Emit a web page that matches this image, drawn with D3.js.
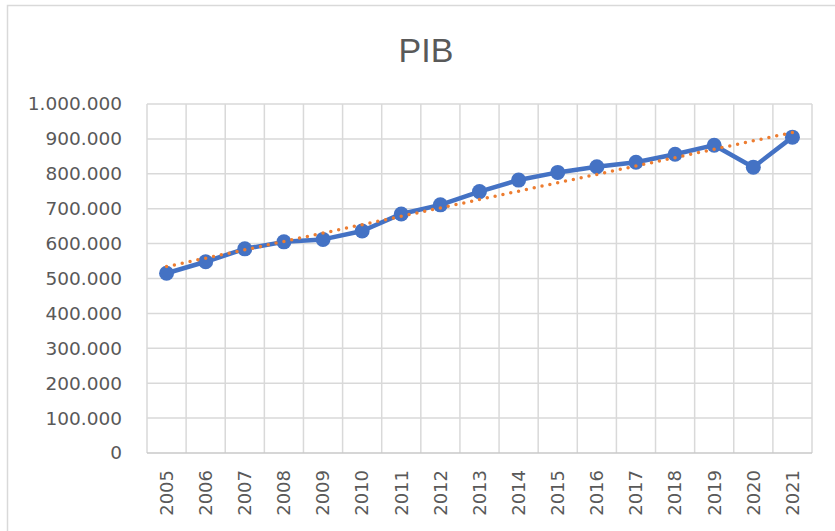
<!DOCTYPE html>
<html>
<head>
<meta charset="utf-8">
<script src="https://cdn.jsdelivr.net/npm/d3@7"></script>
<style>
  body { margin: 0; background: #fff; }
  svg { display: block; }
</style>
</head>
<body>
<svg id="chart"></svg>
<script>
// data
const years = ["2005","2006","2007","2008","2009","2010","2011","2012","2013",
               "2014","2015","2016","2017","2018","2019","2020","2021"];
const pib = [515000, 548000, 585000, 605000, 612000, 636000, 685000, 711000, 749000,
             782000, 804000, 820000, 833000, 856000, 882000, 819000, 905000];
const yTicks = [0, 100000, 200000, 300000, 400000, 500000, 600000, 700000, 800000, 900000, 1000000];
const chartTitle = "PIB";

let W = 835, H = 531;
let margin = {top: 104, right: 23, bottom: 78, left: 147},
    width = W - margin.left - margin.right,
    height = H - margin.top - margin.bottom;

let svg = d3.select("#chart")
    .attr("width", W)
    .attr("height", H);

// chart frame
svg.append("rect")
    .attr("x", 7.5).attr("y", 5.5)
    .attr("width", 840).attr("height", 540)
    .attr("fill", "#fff")
    .attr("stroke", "#d9d9d9")
    .attr("stroke-width", 1.5);

svg.append("text")
    .attr("x", 426).attr("y", 62)
    .attr("text-anchor", "middle")
    .attr("font-family", "'Liberation Sans Narrow', 'Liberation Sans', sans-serif")
    .attr("font-size", 34)
    .attr("fill", "#595959")
    .text(chartTitle);

let chart = svg.append("g")
    .attr("transform", "translate(" + margin.left + "," + margin.top + ")");

let xScale = d3.scaleBand()
    .domain(years)
    .range([0, width]);

let yScale = d3.scaleLinear()
    .domain([0, 1000000])
    .range([height, 0]);

let fmt = d3.formatLocale({decimal: ",", thousands: ".", grouping: [3], currency: ["", ""]}).format(",.0f");

// horizontal grid
chart.append("g")
    .selectAll("line")
    .data(yTicks.slice(1))
    .enter()
    .append("line")
    .attr("x1", 0).attr("x2", width)
    .attr("y1", d => yScale(d)).attr("y2", d => yScale(d))
    .attr("stroke", "#d9d9d9")
    .attr("stroke-width", 1.5);

// vertical grid at category edges
chart.append("g")
    .selectAll("line")
    .data(years.concat(["end"]))
    .enter()
    .append("line")
    .attr("x1", (d, i) => i * xScale.step())
    .attr("x2", (d, i) => i * xScale.step())
    .attr("y1", 0).attr("y2", height)
    .attr("stroke", "#d9d9d9")
    .attr("stroke-width", 1.5);

// bottom axis line
chart.append("line")
    .attr("x1", 0).attr("x2", width)
    .attr("y1", height).attr("y2", height)
    .attr("stroke", "#c8c8c8")
    .attr("stroke-width", 1.5);

// y axis labels
let yAxis = chart.append("g")
    .call(d3.axisLeft(yScale).tickValues(yTicks).tickFormat(fmt).tickSize(0).tickPadding(25));
yAxis.select(".domain").remove();
yAxis.selectAll("text")
    .attr("font-family", "'DejaVu Sans', sans-serif")
    .attr("font-size", 18.5)
    .attr("fill", "#595959");

// x axis labels, rotated
let xAxis = chart.append("g")
    .attr("transform", "translate(0," + height + ")")
    .call(d3.axisBottom(xScale).tickSize(0));
xAxis.select(".domain").remove();
xAxis.selectAll("text")
    .attr("transform", "rotate(-90)")
    .attr("x", -17)
    .attr("y", 0)
    .attr("dy", "0.35em")
    .attr("text-anchor", "end")
    .attr("font-family", "'DejaVu Sans', sans-serif")
    .attr("font-size", 18)
    .attr("fill", "#595959");

let cx = d => xScale(d) + xScale.bandwidth() / 2;

// linear trendline (least squares over the series)
let n = pib.length;
let xs = d3.range(1, n + 1);
let mx = d3.mean(xs), my = d3.mean(pib);
let slope = d3.sum(xs, (x, i) => (x - mx) * (pib[i] - my)) / d3.sum(xs, x => (x - mx) * (x - mx));
let icpt = my - slope * mx;
let trend = [
    {year: years[0], v: icpt + slope * 1},
    {year: years[n - 1], v: icpt + slope * n}
];

let line = d3.line()
    .x(d => cx(d.year))
    .y(d => yScale(d.v));

let series = years.map((y, i) => ({year: y, v: pib[i]}));

chart.append("path")
    .datum(series)
    .attr("d", line)
    .attr("fill", "none")
    .attr("stroke", "#4472c4")
    .attr("stroke-width", 4.5)
    .attr("stroke-linejoin", "round");

chart.selectAll("circle.pt")
    .data(series)
    .enter()
    .append("circle")
    .attr("class", "pt")
    .attr("cx", d => cx(d.year))
    .attr("cy", d => yScale(d.v))
    .attr("r", 7.5)
    .attr("fill", "#4472c4");

chart.append("path")
    .datum(trend)
    .attr("d", line)
    .attr("fill", "none")
    .attr("stroke", "#ed7d31")
    .attr("stroke-width", 3.5)
    .attr("stroke-linecap", "round")
    .attr("stroke-dasharray", "0,8");
</script>
</body>
</html>
